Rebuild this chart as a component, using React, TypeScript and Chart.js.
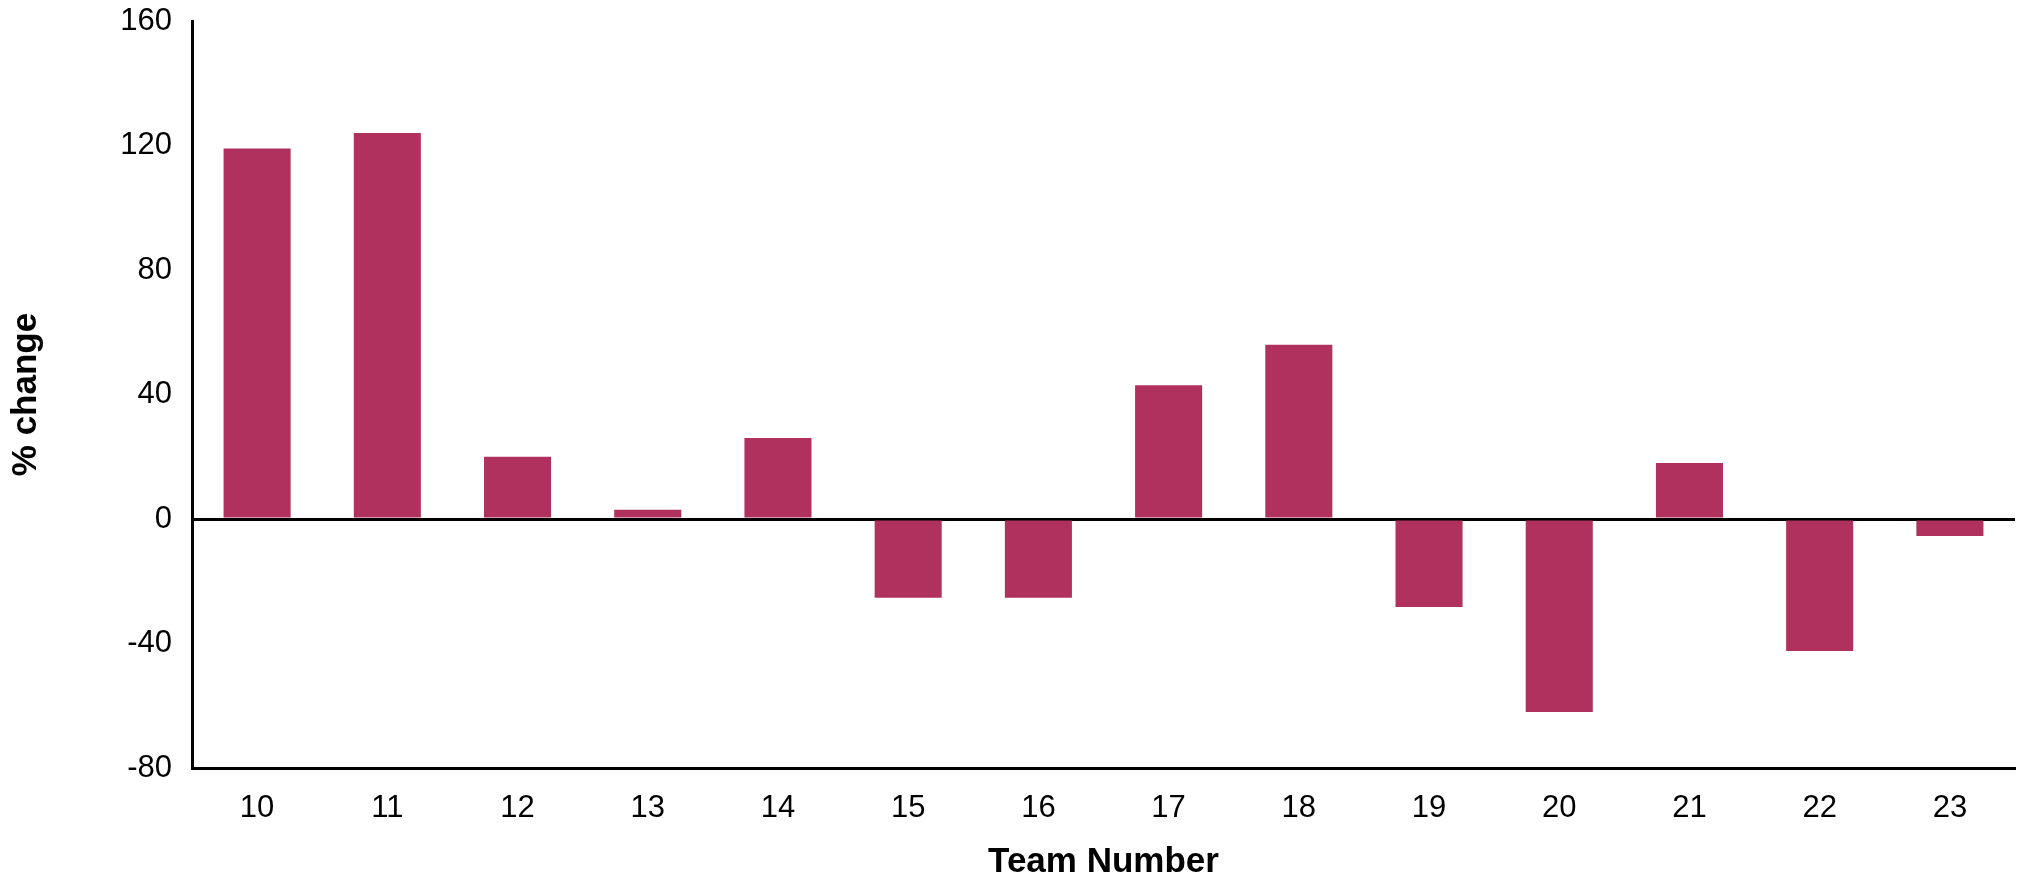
import React, { useEffect, useRef } from "react";
import { Chart, registerables } from "chart.js";

Chart.register(...registerables);

const teams = ["10", "11", "12", "13", "14", "15", "16", "17", "18", "19", "20", "21", "22", "23"];
const pctChange = [119, 124, 20, 3, 26, -25.3, -25.3, 43, 56, -28.3, -62, 18, -42.4, -5.5];
const yTicks = [-80, -40, 0, 40, 80, 120, 160];

const FONT = "'Liberation Sans', Arial, Helvetica, sans-serif";

export default function App() {
  const ref = useRef<HTMLCanvasElement | null>(null);
  useEffect(() => {
    if (!ref.current) return;
    const chart = new Chart(ref.current, {
      type: "bar",
      data: {
        labels: teams,
        datasets: [
          {
            data: pctChange,
            backgroundColor: "#B0315E",
            borderWidth: 0,
            categoryPercentage: 1,
            barPercentage: 0.515,
          },
        ],
      },
      options: {
        animation: false,
        responsive: false,
        maintainAspectRatio: false,
        layout: { padding: { left: 0, right: 4, top: 21, bottom: 0 } },
        plugins: { legend: { display: false }, tooltip: { enabled: false } },
        scales: {
          x: {
            grid: { display: false, drawTicks: false },
            border: { display: true, color: "#000", width: 3 },
            ticks: { color: "#000", font: { family: FONT, size: 31 }, padding: 22, maxRotation: 0 },
            title: {
              display: true,
              text: "Team Number",
              color: "#000",
              font: { family: FONT, size: 35, weight: "bold", lineHeight: 1.0 },
              padding: { top: 0, bottom: 0 },
            },
            afterFit: (s: any) => {
              s.height = 112;
              s.paddingLeft = 0;
              s.paddingRight = 0;
            },
          },
          y: {
            z: 1,
            min: yTicks[0],
            max: yTicks[yTicks.length - 1],
            afterBuildTicks: (s: any) => {
              s.ticks = yTicks.map((v) => ({ value: v }));
            },
            grid: {
              drawTicks: false,
              color: (c: any) => (c.tick && c.tick.value === 0 ? "#000" : "rgba(0,0,0,0)"),
              lineWidth: 3,
            },
            border: { display: true, color: "#000", width: 3 },
            ticks: { color: "#000", font: { family: FONT, size: 31 }, padding: 20 },
            title: {
              display: true,
              text: "% change",
              color: "#000",
              font: { family: FONT, size: 35, weight: "bold" },
              padding: { top: 5, bottom: 0 },
            },
            afterFit: (s: any) => {
              s.width = 192;
              s.paddingTop = 0;
              s.paddingBottom = 0;
            },
          },
        },
      },
    });
    return () => chart.destroy();
  }, []);
  return (
    <div style={{ position: "fixed", left: 0, top: 0, width: 2019, height: 880, background: "#fff" }}>
      <canvas ref={ref} width={2019} height={880} style={{ width: 2019, height: 880 }} />
    </div>
  );
}
